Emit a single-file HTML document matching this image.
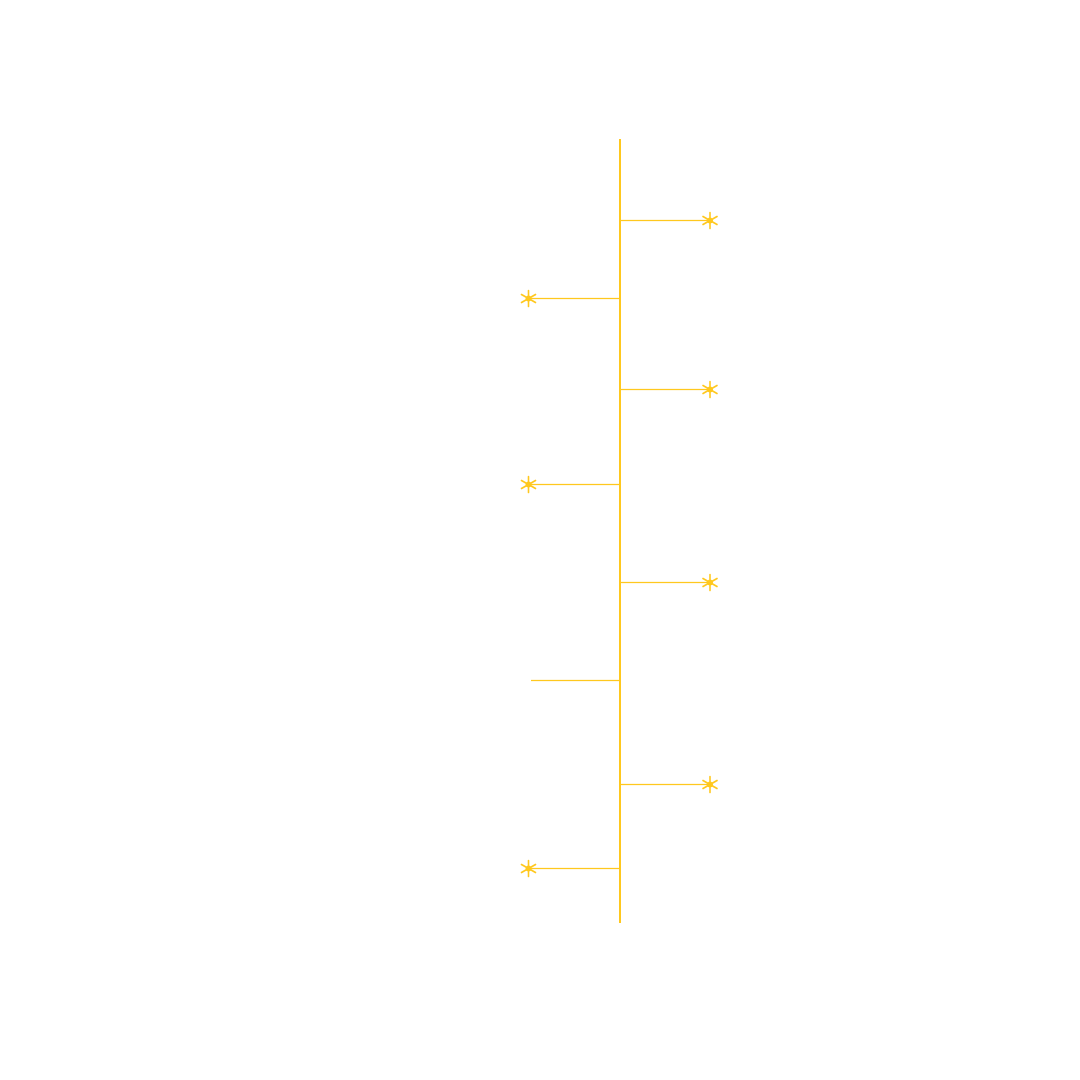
<!DOCTYPE html>
<html><head><meta charset="utf-8"><style>html,body{margin:0;padding:0;background:#fff}svg{display:block}</style></head>
<body>
<svg width="1080" height="1080" viewBox="0 0 1080 1080" xmlns="http://www.w3.org/2000/svg">
<defs>
<g id="ast" stroke="#FFC81E" stroke-width="1.6" stroke-linecap="round">
<line x1="0" y1="-8" x2="0" y2="8"/>
<line x1="-7" y1="-4" x2="7" y2="4"/>
<line x1="-7" y1="4" x2="7" y2="-4"/>
<circle r="3" fill="#FFC81E" stroke="none"/>
</g>
</defs>
<line x1="620" y1="139" x2="620" y2="923" stroke="#FFC81E" stroke-width="2"/>
<g stroke="#FFC81E" stroke-width="1.2">
<line x1="620" y1="220.5" x2="710" y2="220.5"/>
<line x1="620" y1="298.5" x2="528" y2="298.5"/>
<line x1="620" y1="389.5" x2="710" y2="389.5"/>
<line x1="620" y1="484.5" x2="528" y2="484.5"/>
<line x1="620" y1="582.5" x2="710" y2="582.5"/>
<line x1="620" y1="680.5" x2="531" y2="680.5"/>
<line x1="620" y1="784.5" x2="710" y2="784.5"/>
<line x1="620" y1="868.5" x2="528" y2="868.5"/>
</g>
<use href="#ast" x="710" y="220.5"/>
<use href="#ast" x="528.5" y="298.5"/>
<use href="#ast" x="710" y="389.5"/>
<use href="#ast" x="528.5" y="484.5"/>
<use href="#ast" x="710" y="582.5"/>
<use href="#ast" x="710" y="784.5"/>
<use href="#ast" x="528.5" y="868.5"/>
</svg>
</body></html>
